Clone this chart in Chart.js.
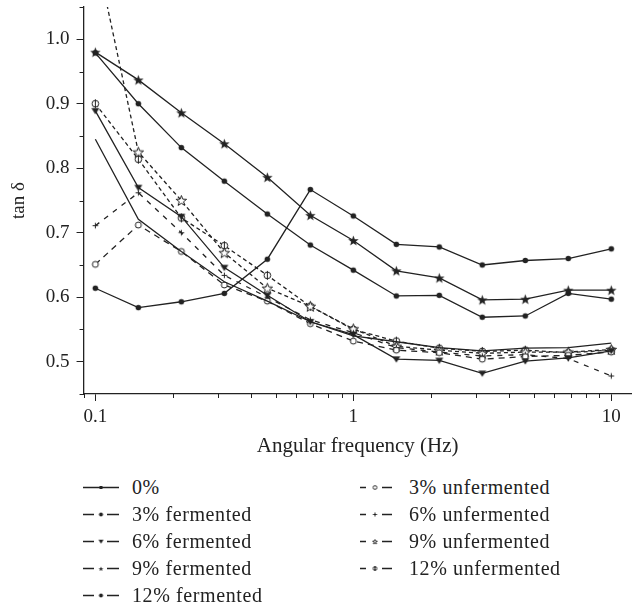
<!DOCTYPE html>
<html>
<head>
<meta charset="utf-8">
<script src="https://cdn.jsdelivr.net/npm/chart.js@4.4.1/dist/chart.umd.min.js"></script>
<style>
    body { margin: 0; background: #fff; }
    #wrap { position: relative; width: 637px; height: 609px; font-family: 'Liberation Serif', 'DejaVu Serif', serif; color: #222; }
    #chartBox { position: absolute; left: 0; top: 0; width: 637px; height: 459px; }
    .legend-item { position: absolute; display: flex; align-items: center; font-size: 20px; letter-spacing: 0.6px; height: 24px; white-space: nowrap; }
    .legend-item canvas { margin-right: 13px; }
</style>
</head>
<body>
<div id="wrap">
    <div id="chartBox"><canvas id="tanDeltaChart"></canvas></div>
    <div id="legend"></div>
</div>
<script>
// frequency sweep points (Hz), six per decade
const frequencies = [0.1, 0.1468, 0.2154, 0.3162, 0.4642, 0.6813, 1, 1.468, 2.154, 3.162, 4.642, 6.813, 10];

// tan delta per sample
const control0 = [0.845, 0.721, 0.671, 0.624, 0.594, 0.562, 0.540, 0.531, 0.522, 0.517, 0.521, 0.522, 0.529];
const fermented3 = [0.614, 0.584, 0.593, 0.606, 0.659, 0.767, 0.726, 0.682, 0.678, 0.650, 0.657, 0.660, 0.675];
const fermented6 = [0.889, 0.770, 0.725, 0.646, 0.603, 0.562, 0.542, 0.504, 0.502, 0.482, 0.501, 0.506, 0.517];
const fermented9 = [0.980, 0.937, 0.886, 0.838, 0.786, 0.727, 0.688, 0.641, 0.630, 0.596, 0.597, 0.611, 0.611];
const fermented12 = [0.979, 0.900, 0.832, 0.780, 0.729, 0.681, 0.642, 0.602, 0.603, 0.569, 0.571, 0.606, 0.597];
const unfermented3 = [0.651, 0.712, 0.671, 0.619, 0.594, 0.559, 0.532, 0.518, 0.514, 0.504, 0.508, 0.510, 0.515];
const unfermented6 = [0.711, 0.762, 0.700, 0.634, 0.600, 0.565, 0.545, 0.522, 0.515, 0.509, 0.511, 0.505, 0.478];
const unfermented9 = [1.138, 0.825, 0.750, 0.669, 0.614, 0.586, 0.551, 0.524, 0.518, 0.513, 0.515, 0.515, 0.519];
const unfermented12 = [0.900, 0.814, 0.723, 0.680, 0.634, 0.586, 0.550, 0.532, 0.521, 0.516, 0.518, 0.514, 0.518];

const seriesLabels = ['0%', '3% fermented', '6% fermented', '9% fermented', '12% fermented',
    '3% unfermented', '6% unfermented', '9% unfermented', '12% unfermented'];

// x ticks: 0.09 .. 10, labels only on decades
const xTickValues = [0.09, 0.1, 0.2, 0.3, 0.4, 0.5, 0.6, 0.7, 0.8, 0.9, 1, 2, 3, 4, 5, 6, 7, 8, 9, 10];
const xTickLabels = ['0.1', '1', '10'];
// y ticks every 0.05, labels on tenths
const yTickValues = [0.45, 0.5, 0.55, 0.6, 0.65, 0.7, 0.75, 0.8, 0.85, 0.9, 0.95, 1.0, 1.05];
const yTickLabels = ['0.5', '0.6', '0.7', '0.8', '0.9', '1.0'];

const INK = '#222';
const FONT = "'Liberation Serif', 'DejaVu Serif', serif";

// small marker bitmaps used as pointStyle
function makeMarker(kind, size) {
    const c = document.createElement('canvas');
    c.width = size; c.height = size;
    const g = c.getContext('2d');
    const m = size / 2;
    const r = size / 2 - 1;
    g.strokeStyle = INK; g.fillStyle = INK; g.lineWidth = 1;
    const star = (ro) => {
        g.beginPath();
        for (let i = 0; i < 10; i++) {
            const rad = i % 2 === 0 ? ro : ro * 0.42;
            const a = -Math.PI / 2 + i * Math.PI / 5;
            g.lineTo(m + rad * Math.cos(a), m + 0.5 + rad * Math.sin(a));
        }
        g.closePath();
    };
    if (kind === 'dot') {
        g.beginPath(); g.arc(m, m, r * 0.8, 0, Math.PI * 2); g.fill();
    } else if (kind === 'ring' || kind === 'phi') {
        g.beginPath(); g.arc(m, m, r * 0.75, 0, Math.PI * 2);
        g.fillStyle = '#fff'; g.fill(); g.stroke();
        if (kind === 'phi') {
            g.beginPath(); g.moveTo(m, m - r); g.lineTo(m, m + r); g.stroke();
        }
    } else if (kind === 'tri') {
        g.beginPath();
        g.moveTo(m - r, m - r * 0.7); g.lineTo(m + r, m - r * 0.7); g.lineTo(m, m + r * 0.9);
        g.closePath(); g.fill();
    } else if (kind === 'star') {
        star(r); g.fill();
    } else if (kind === 'starOpen') {
        star(r); g.fillStyle = '#fff'; g.fill(); g.stroke();
    } else if (kind === 'plus') {
        g.beginPath();
        g.moveTo(m - r * 0.8, m); g.lineTo(m + r * 0.8, m);
        g.moveTo(m, m - r * 0.8); g.lineTo(m, m + r * 0.8);
        g.stroke();
    } else if (kind === 'square') {
        g.fillRect(m - r * 0.6, m - r * 0.6, r * 1.2, r * 1.2);
    }
    return c;
}

const styles = [
    { marker: 'square', size: 0, dash: [] },
    { marker: 'dot', size: 9, dash: [] },
    { marker: 'tri', size: 10, dash: [] },
    { marker: 'star', size: 13, dash: [] },
    { marker: 'dot', size: 9, dash: [] },
    { marker: 'ring', size: 10, dash: [6, 5] },
    { marker: 'plus', size: 9, dash: [5, 6] },
    { marker: 'starOpen', size: 13, dash: [4, 3] },
    { marker: 'phi', size: 11, dash: [4, 3] }
];
const seriesData = [control0, fermented3, fermented6, fermented9, fermented12,
    unfermented3, unfermented6, unfermented9, unfermented12];

const datasets = seriesData.map((vals, i) => ({
    label: seriesLabels[i],
    data: vals.map((v, k) => ({ x: frequencies[k], y: v })),
    borderColor: INK,
    backgroundColor: INK,
    borderWidth: 1.3,
    borderDash: styles[i].dash,
    pointStyle: styles[i].size ? makeMarker(styles[i].marker, styles[i].size) : false,
    pointRadius: styles[i].size ? 4 : 0,
    tension: 0
}));

// short minor ticks drawn after the chart; major ones come from the grid
const minorTicks = {
    id: 'minorTicks',
    afterDraw(chart) {
        const g = chart.ctx;
        g.save();
        g.strokeStyle = INK;
        g.lineWidth = 1;
        const xs = chart.scales.x, ys = chart.scales.y;
        xs.ticks.forEach(t => {
            if (t.major) return;
            const px = Math.round(xs.getPixelForValue(t.value)) + 0.5;
            g.beginPath(); g.moveTo(px, xs.top); g.lineTo(px, xs.top + 4); g.stroke();
        });
        ys.ticks.forEach(t => {
            if (t.major) return;
            const py = Math.round(ys.getPixelForValue(t.value)) + 0.5;
            g.beginPath(); g.moveTo(ys.right, py); g.lineTo(ys.right - 4, py); g.stroke();
        });
        g.restore();
    }
};

const tickFont = { family: FONT, size: 19 };

new Chart(document.getElementById('tanDeltaChart').getContext('2d'), {
    type: 'line',
    data: { datasets: datasets },
    options: {
        responsive: true,
        maintainAspectRatio: false,
        animation: false,
        layout: { padding: { top: 7, right: 5, left: 8, bottom: 0 } },
        plugins: { legend: { display: false }, tooltip: { enabled: false } },
        scales: {
            x: {
                type: 'logarithmic',
                min: 0.09,
                max: 12,
                afterBuildTicks: (scale) => {
                    scale.ticks = xTickValues.map(v => ({ value: v, major: xTickLabels.includes(String(v)) }));
                },
                ticks: {
                    autoSkip: false,
                    maxRotation: 0,
                    color: INK,
                    font: tickFont,
                    padding: 5,
                    callback: (v) => xTickLabels.includes(String(v)) ? String(v) : ''
                },
                grid: {
                    drawOnChartArea: false,
                    tickLength: 7,
                    tickColor: (c) => (c.tick && c.tick.major) ? INK : 'rgba(0,0,0,0)',
                    tickWidth: 1
                },
                border: { display: true, color: INK, width: 1.3 },
                title: {
                    display: true,
                    text: 'Angular frequency (Hz)',
                    color: INK,
                    font: { family: FONT, size: 21 },
                    padding: { top: 0, bottom: 0 }
                }
            },
            y: {
                type: 'linear',
                min: 0.45,
                max: 1.05,
                afterBuildTicks: (scale) => {
                    scale.ticks = yTickValues.map(v => ({ value: v, major: yTickLabels.includes(v.toFixed(1)) && Math.abs(v * 10 - Math.round(v * 10)) < 1e-6 }));
                },
                // the top tick has no label, so no room is needed above it
                afterFit: (scale) => {
                    scale.paddingTop = 0;
                },
                ticks: {
                    autoSkip: false,
                    color: INK,
                    font: tickFont,
                    padding: 7,
                    callback: (v) => {
                        const s = v.toFixed(1);
                        return (Math.abs(v * 10 - Math.round(v * 10)) < 1e-6 && yTickLabels.includes(s)) ? s : '';
                    }
                },
                grid: {
                    drawOnChartArea: false,
                    tickLength: 7,
                    tickColor: (c) => (c.tick && c.tick.major) ? INK : 'rgba(0,0,0,0)',
                    tickWidth: 1
                },
                border: { display: true, color: INK, width: 1.3 },
                title: {
                    display: true,
                    text: 'tan δ',
                    color: INK,
                    font: { family: FONT, size: 19 },
                    padding: { top: 0, bottom: 8 }
                }
            }
        }
    },
    plugins: [minorTicks]
});

// legend below the plot: line sample with marker, then the label
const legendSpots = [
    [83, 475], [83, 502], [83, 529], [83, 556], [83, 583],
    [360, 475], [360, 502], [360, 529], [360, 556]
];
const legendBox = document.getElementById('legend');
seriesLabels.forEach((label, i) => {
    const item = document.createElement('div');
    item.className = 'legend-item';
    item.style.left = legendSpots[i][0] + 'px';
    item.style.top = legendSpots[i][1] + 'px';
    const sw = document.createElement('canvas');
    sw.width = 36; sw.height = 12;
    const g = sw.getContext('2d');
    g.strokeStyle = INK; g.lineWidth = 1.3;
    g.beginPath();
    if (i === 0) {
        g.moveTo(0, 6.5); g.lineTo(36, 6.5);
    } else if (i < 5) {
        g.moveTo(0, 6.5); g.lineTo(11, 6.5); g.moveTo(24, 6.5); g.lineTo(36, 6.5);
    } else {
        g.moveTo(0, 6.5); g.lineTo(6, 6.5); g.moveTo(22, 6.5); g.lineTo(32, 6.5);
    }
    g.stroke();
    const mk = makeMarker(styles[i].marker, 7);
    const cx = i < 5 ? 18 : 15;
    g.drawImage(mk, cx - 3.5, 3);
    item.appendChild(sw);
    const span = document.createElement('span');
    span.textContent = label;
    item.appendChild(span);
    legendBox.appendChild(item);
});
</script>
</body>
</html>
